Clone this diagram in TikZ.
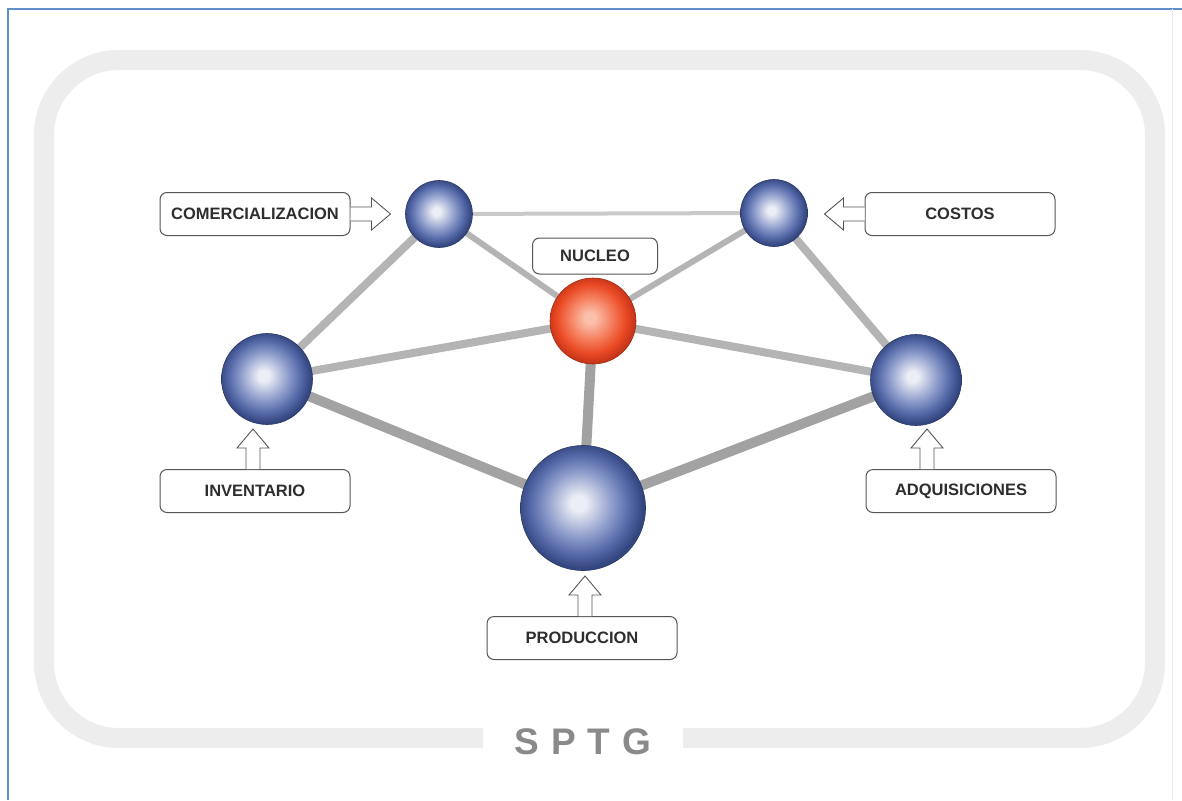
\documentclass[tikz,border=0pt]{standalone}
\usepackage{fontspec}
\setmainfont{Liberation Sans}

\definecolor{frameblue}{HTML}{5F8FCB}
\definecolor{bandgray}{HTML}{EDEDED}
\definecolor{linklight}{HTML}{C9C9C9}
\definecolor{linkmid}{HTML}{B4B4B4}
\definecolor{linkdark}{HTML}{A2A2A2}
\definecolor{labelink}{HTML}{2E2E2E}
\definecolor{boxline}{HTML}{555555}
\definecolor{titlegray}{HTML}{8A8A8A}

\definecolor{bA}{HTML}{ECEEF5}
\definecolor{bB}{HTML}{8E9DCB}
\definecolor{bC}{HTML}{5468A8}
\definecolor{bD}{HTML}{34467F}
\definecolor{rA}{HTML}{FBC0AC}
\definecolor{rB}{HTML}{F47A58}
\definecolor{rC}{HTML}{EA4A24}
\definecolor{rD}{HTML}{C7361A}

\pgfdeclareradialshading{bluesphere}{\pgfpoint{-2bp}{2bp}}{%
  color(0bp)=(bA); color(3bp)=(bA); color(13bp)=(bB); color(20bp)=(bC);
  color(25bp)=(bD); color(50bp)=(bD)}
\pgfdeclareradialshading{redsphere}{\pgfpoint{-2bp}{2bp}}{%
  color(0bp)=(rA); color(3bp)=(rA); color(13bp)=(rB); color(20bp)=(rC);
  color(25bp)=(rD); color(50bp)=(rD)}

\tikzset{
  bluenode/.style={circle, shading=bluesphere, draw=bD!80!black, line width=0.6pt,
                   inner sep=0pt, minimum size=#1},
  rednode/.style={circle, shading=redsphere, draw=rD!80!black, line width=0.6pt,
                  inner sep=0pt, minimum size=#1},
  tag/.style={draw=boxline, line width=1pt, fill=white, rounded corners=7pt,
              minimum width=190pt, minimum height=43pt, inner sep=0pt,
              text=labelink, font=\bfseries\fontsize{16.5}{18}\selectfont},
  % hollow block arrow, tail at the origin, tip 40pt along the x axis
  hollowarrow/.pic={
    \draw[boxline, line width=0.9pt, fill=white, line join=miter]
      (0,-7) -- (21,-7) -- (21,-16) -- (40,0) -- (21,16) -- (21,7) -- (0,7);
  },
  thinlink/.style={draw=linklight, line width=4pt},
  midlink/.style={draw=linkmid, line width=6pt},
  widelink/.style={draw=linkmid, line width=8pt},
  heavylink/.style={draw=linkdark, line width=10pt},
}

\begin{document}
\begin{tikzpicture}[x=1pt, y=-1pt]
  \useasboundingbox (0,0) rectangle (1182,800);
  \fill[white] (0,0) rectangle (1182,800);

  % outer page rule
  \draw[frameblue, line width=2pt] (8,800) -- (8,9) -- (1182,9);
  \draw[black!8, line width=0.8pt] (1172,9) -- (1172,800);

  % light rounded frame, open at the bottom for the title
  \draw[bandgray, line width=20pt, rounded corners=75pt]
    (683,738) -- (1155,738) -- (1155,60) -- (44,60) -- (44,738) -- (483,738);
  \node[text=titlegray, font=\bfseries\fontsize{37}{40}\selectfont] (title) at (583,742)
    {S\kern12pt P\kern12pt T\kern12pt G};

  % node positions
  \coordinate (pCom) at (439,214);
  \coordinate (pCos) at (774,213);
  \coordinate (pNuc) at (593,321);
  \coordinate (pInv) at (267,379);
  \coordinate (pAdq) at (916,380);
  \coordinate (pPro) at (583,508);

  % links
  \draw[thinlink] (pCom) -- (pCos);
  \draw[midlink] (pCom) -- (pNuc);
  \draw[midlink] (pCos) -- (pNuc);
  \draw[widelink] (pCom) -- (pInv);
  \draw[widelink] (pCos) -- (pAdq);
  \draw[widelink] (pInv) -- (pNuc);
  \draw[widelink] (pAdq) -- (pNuc);
  \draw[heavylink] (pInv) -- (pPro);
  \draw[heavylink] (pAdq) -- (pPro);
  \draw[heavylink] (pNuc) -- (pPro);

  % spheres
  \node[bluenode=67pt] (com) at (pCom) {};
  \node[bluenode=67pt] (cos) at (pCos) {};
  \node[rednode=86pt]  (nuc) at (pNuc) {};
  \node[bluenode=91pt] (inv) at (pInv) {};
  \node[bluenode=91pt] (adq) at (pAdq) {};
  \node[bluenode=125pt] (pro) at (pPro) {};

  % labels
  \node[tag] (tCom) at (255,214) {COMERCIALIZACION};
  \node[tag] (tCos) at (960,214) {COSTOS};
  \node[tag, minimum width=125pt, minimum height=36pt] (tNuc) at (595,256) {NUCLEO};
  \node[tag] (tInv) at (255,491) {INVENTARIO};
  \node[tag] (tAdq) at (961,491) {ADQUISICIONES};
  \node[tag] (tPro) at (582,638) {PRODUCCION};

  % block arrows from each label toward its sphere
  \pic at (tCom.east) {hollowarrow};
  \pic[rotate=180] at (tCos.west) {hollowarrow};
  \pic[rotate=90] at (tInv.north -| 253,0) {hollowarrow};
  \pic[rotate=90] at (tAdq.north -| 927,0) {hollowarrow};
  \pic[rotate=90] at (tPro.north -| 585,0) {hollowarrow};
\end{tikzpicture}
\end{document}
